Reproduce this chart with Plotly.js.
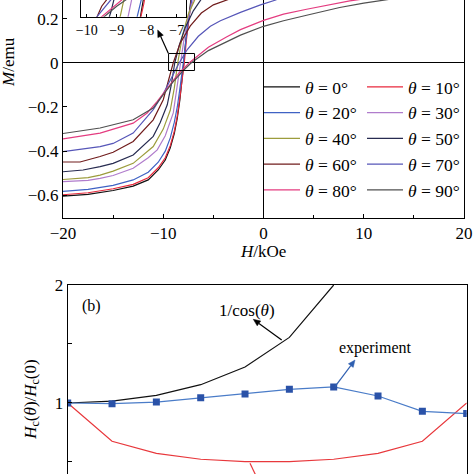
<!DOCTYPE html>
<html><head><meta charset="utf-8">
<script src="https://cdn.plot.ly/plotly-3.0.1.min.js"></script>
<style>html,body{margin:0;padding:0;background:#fff}#chart{width:474px;height:474px}</style>
</head><body><div id="chart"></div>
<script>
// ---------- data: panel (a) hysteresis branches, M (emu) vs H (kOe) ----------
const angleNames = ['0°','10°','20°','30°','40°','50°','60°','70°','80°','90°'];
const H_0  = [-20,-17.5,-15,-13,-11.5,-10.5,-9.8,-9.3,-8.9,-8.6,-8.35,-8.15,-7.95,-7.75,-7.5,-7.2];
const M_0  = [-0.603,-0.595,-0.578,-0.558,-0.53,-0.485,-0.44,-0.385,-0.32,-0.25,-0.17,-0.09,0,0.1,0.2,0.3];
const H_10 = [-20,-17.5,-15,-13,-11.5,-10.5,-9.8,-9.3,-8.9,-8.6,-8.35,-8.1,-7.9,-7.7,-7.45,-7.15];
const M_10 = [-0.597,-0.588,-0.57,-0.55,-0.52,-0.475,-0.43,-0.375,-0.31,-0.24,-0.16,-0.08,0,0.1,0.2,0.3];
const H_20 = [-20,-17.5,-15,-13,-11.5,-10.5,-9.8,-9.3,-8.9,-8.6,-8.35,-8.15,-8.0,-7.8,-7.5,-7.1];
const M_20 = [-0.582,-0.573,-0.555,-0.53,-0.495,-0.45,-0.4,-0.34,-0.27,-0.2,-0.12,-0.06,0,0.08,0.19,0.3];
const H_30 = [-20,-17.5,-16.3,-15,-13,-11.5,-10.6,-9.8,-9.0,-8.65,-8.3,-7.95,-7.55,-6.9];
const M_30 = [-0.538,-0.532,-0.523,-0.51,-0.477,-0.43,-0.394,-0.33,-0.227,-0.12,0,0.1,0.2,0.3];
const H_40 = [-20,-17.5,-16.3,-15,-13,-11,-10,-9.3,-8.9,-8.55,-8.1,-7.5,-6.7];
const M_40 = [-0.528,-0.52,-0.508,-0.49,-0.455,-0.379,-0.3,-0.215,-0.115,0,0.12,0.22,0.3];
const H_50 = [-20,-18,-16.3,-15,-13,-11,-10.3,-9.6,-9.2,-8.85,-8.4,-7.8,-7.0,-6.1];
const M_50 = [-0.493,-0.485,-0.47,-0.455,-0.417,-0.333,-0.27,-0.19,-0.1,0,0.08,0.16,0.235,0.295];
const H_60 = [-20,-18.3,-16.3,-15,-13,-11,-10,-9.5,-9.0,-8.3,-7.3,-6.2,-5,-3.3];
const M_60 = [-0.449,-0.449,-0.424,-0.405,-0.356,-0.258,-0.167,-0.085,0,0.09,0.167,0.225,0.262,0.29];
const H_70 = [-20,-16.3,-15,-13,-11,-10,-9.2,-8.4,-7.6,-6.5,-5.3,-4.3,-2.3,-0.3,1.3];
const M_70 = [-0.402,-0.379,-0.365,-0.318,-0.212,-0.14,-0.07,0,0.06,0.12,0.165,0.19,0.228,0.262,0.285];
const H_80 = [-20,-16.3,-13,-11.6,-10.6,-9.5,-8.5,-7.4,-5.5,-3.65,-2.3,0,2,4.3,6.5,8.6,11];
const M_80 = [-0.344,-0.318,-0.273,-0.227,-0.175,-0.11,-0.05,0,0.07,0.118,0.15,0.192,0.22,0.242,0.263,0.28,0.295];
const H_90 = [-20,-16.3,-13,-11,-10,-9,-8,-7.2,-5.5,-3.65,-2.3,0,2,4.3,7.6,10,13];
const M_90 = [-0.32,-0.295,-0.258,-0.205,-0.144,-0.085,-0.035,0,0.055,0.095,0.125,0.165,0.19,0.215,0.25,0.27,0.29];
const H_list = [H_0,H_10,H_20,H_30,H_40,H_50,H_60,H_70,H_80,H_90];
const M_list = [M_0,M_10,M_20,M_30,M_40,M_50,M_60,M_70,M_80,M_90];
const xTicksA = [-20,-10,0,10,20];
const xMinorA = [-15,-5,5,15];
const yTicksA = [-0.6,-0.4,-0.2,0,0.2];
const insetTicks = [-10,-9,-8,-7];

// ---------- data: panel (b) Hc(theta)/Hc(0) ----------
const thetaDeg   = [0,10,20,30,40,50,60,70,80,90];
const experiment = [1.0,0.994,1.008,1.045,1.076,1.116,1.136,1.059,0.929,0.91];
const thetaCos   = [0,10,20,30,40,50,60];
const invCos     = [1.0,1.015,1.064,1.155,1.305,1.556,2.0];
const redModel   = [1.0,0.675,0.573,0.523,0.503,0.503,0.523,0.573,0.675,1.0];
const yTicksB    = [1,2];
const yMinorB    = [0.5,1.5];

// ---------- styles ----------
const colors = ['#111111','#e8283c','#3f62c4','#b07ccc','#9c9c3c','#272b50','#701c1c','#5656b8','#e43c80','#505050'];
const FONT = 'Liberation Serif, DejaVu Serif, serif';
const W = 474;
const px = v => v / W;
const py = v => (W - v) / W;

// arrow drawn as shapes (pixel positions -> paper coords)
function arrowShapes(tx, ty, hx, hy, color) {
  const dx = hx - tx, dy = hy - ty, L = Math.hypot(dx, dy);
  const ux = dx / L, uy = dy / L, hl = 7, hw = 3;
  const bx = hx - ux * hl, by = hy - uy * hl;
  const lx = bx - uy * hw, ly = by + ux * hw;
  const rx = bx + uy * hw, ry = by - ux * hw;
  return [
    {type: 'line', xref: 'paper', yref: 'paper', x0: px(tx), y0: py(ty), x1: px(bx), y1: py(by),
     line: {color: color, width: 1.2}},
    {type: 'path', xref: 'paper', yref: 'paper',
     path: `M${px(hx)},${py(hy)} L${px(lx)},${py(ly)} L${px(rx)},${py(ry)} Z`,
     fillcolor: color, line: {color: color, width: 0.5}}
  ];
}

const traces = [];
H_list.forEach((h, i) => {
  traces.push({
    x: h, y: M_list[i], xaxis: 'x', yaxis: 'y', mode: 'lines',
    line: {color: colors[i], width: 1.2},
    name: '<i>θ</i> = ' + angleNames[i],
    legend: i % 2 === 0 ? 'legend' : 'legend2'
  });
});
H_list.forEach((h, i) => {
  traces.push({
    x: h, y: M_list[i], xaxis: 'x3', yaxis: 'y3', mode: 'lines',
    line: {color: colors[i], width: 1.2}, showlegend: false
  });
});
traces.push({x: thetaCos, y: invCos, xaxis: 'x2', yaxis: 'y2', mode: 'lines',
  line: {color: '#111', width: 1.2}, showlegend: false});
traces.push({x: thetaDeg, y: redModel, xaxis: 'x2', yaxis: 'y2', mode: 'lines',
  line: {color: '#e8383c', width: 1.2}, showlegend: false});
traces.push({x: thetaDeg, y: experiment, xaxis: 'x2', yaxis: 'y2', mode: 'lines+markers',
  line: {color: '#4a7cc8', width: 1.2}, marker: {symbol: 'square', size: 7, color: '#2a52a8'},
  showlegend: false});

const tickfont = {family: FONT, size: 17, color: '#000'};
const axBase = {showgrid: false, showline: true, linecolor: '#000', linewidth: 1,
  ticks: 'inside', ticklen: 4, tickcolor: '#000', tickfont: tickfont, zeroline: false};

const legendBase = {bgcolor: 'rgba(0,0,0,0)', borderwidth: 0, xanchor: 'left', yanchor: 'top',
  font: {family: FONT, size: 17.5, color: '#000'}, itemwidth: 36, tracegroupgap: 0};

const shapes = [
  {type: 'rect', xref: 'x', yref: 'y', x0: -9.47, x1: -6.88, y0: -0.035, y1: 0.042,
   line: {color: '#000', width: 1}},
  {type: 'line', xref: 'paper', yref: 'paper', x0: px(250), y0: py(463.3), x1: px(258), y1: py(480),
   line: {color: '#e8383c', width: 1.2}}
].concat(
  arrowShapes(168.3, 53.3, 157.7, 30, '#000'),
  arrowShapes(281.7, 340, 253.3, 319.3, '#000'),
  arrowShapes(335, 386.7, 355, 360, '#2f5fb0')
);

const layout = {
  width: W, height: W, autosize: false,
  margin: {l: 0, r: 0, t: 0, b: 0},
  paper_bgcolor: '#fff', plot_bgcolor: '#fff',
  showlegend: true,
  xaxis: Object.assign({}, axBase, {domain: [px(63), px(464)], anchor: 'y', range: [-20, 20],
    tickvals: xTicksA, mirror: false, zeroline: true, zerolinecolor: '#000', zerolinewidth: 1,
    minor: {tickvals: xMinorA, ticks: 'inside', ticklen: 3, tickcolor: '#000'}}),
  yaxis: Object.assign({}, axBase, {domain: [py(217.5), 1], anchor: 'x', range: [-0.7, 0.284],
    tickvals: yTicksA, mirror: true, zeroline: true, zerolinecolor: '#000', zerolinewidth: 1}),
  xaxis3: Object.assign({}, axBase, {domain: [px(81), px(185.7)], anchor: 'y3', range: [-10.19, -6.70],
    tickvals: insetTicks, mirror: false, ticklen: 3, tickfont: {family: FONT, size: 14, color: '#000'}}),
  yaxis3: Object.assign({}, axBase, {domain: [py(16.7), 1], anchor: 'x3', range: [-0.11, -0.07],
    showticklabels: false, ticks: '', mirror: true}),
  xaxis2: Object.assign({}, axBase, {domain: [px(67.7), px(466.7)], anchor: 'y2', range: [0, 90],
    showticklabels: false, mirror: true, ticks: ''}),
  yaxis2: Object.assign({}, axBase, {domain: [0, py(285)], anchor: 'x2', range: [0.398, 2],
    tickvals: yTicksB, mirror: true,
    minor: {tickvals: yMinorB, ticks: 'inside', ticklen: 4, tickcolor: '#000'}}),
  legend: Object.assign({}, legendBase, {x: px(259), y: py(69)}),
  legend2: Object.assign({}, legendBase, {x: px(362), y: py(69)}),
  shapes: shapes,
  annotations: [
    {text: '<i>H</i>/kOe', xref: 'paper', yref: 'paper', x: px(263.3), y: py(252), showarrow: false,
     font: {family: FONT, size: 17, color: '#000'}, xanchor: 'center', yanchor: 'middle'},
    {text: '<i>M</i>/emu', xref: 'paper', yref: 'paper', x: px(9), y: py(62), showarrow: false,
     textangle: -90, font: {family: FONT, size: 17, color: '#000'}, xanchor: 'center', yanchor: 'middle'},
    {text: '<i>H</i><sub>c</sub>(<i>θ</i>)/<i>H</i><sub>c</sub>(0)', xref: 'paper', yref: 'paper',
     x: px(31.7), y: py(400), showarrow: false, textangle: -90,
     font: {family: FONT, size: 17, color: '#000'}, xanchor: 'center', yanchor: 'middle'},
    {text: '(b)', xref: 'paper', yref: 'paper', x: px(91.7), y: py(306), showarrow: false,
     font: {family: FONT, size: 16, color: '#000'}, xanchor: 'center', yanchor: 'middle'},
    {text: '1/cos(<i>θ</i>)', xref: 'paper', yref: 'paper', x: px(246.7), y: py(310), showarrow: false,
     font: {family: FONT, size: 17, color: '#000'}, xanchor: 'center', yanchor: 'middle'},
    {text: 'experiment', xref: 'paper', yref: 'paper', x: px(375), y: py(348.3), showarrow: false,
     font: {family: FONT, size: 16, color: '#000'}, xanchor: 'center', yanchor: 'middle'}
  ]
};

Plotly.newPlot('chart', traces, layout, {staticPlot: true, displayModeBar: false});
</script>
</body></html>
